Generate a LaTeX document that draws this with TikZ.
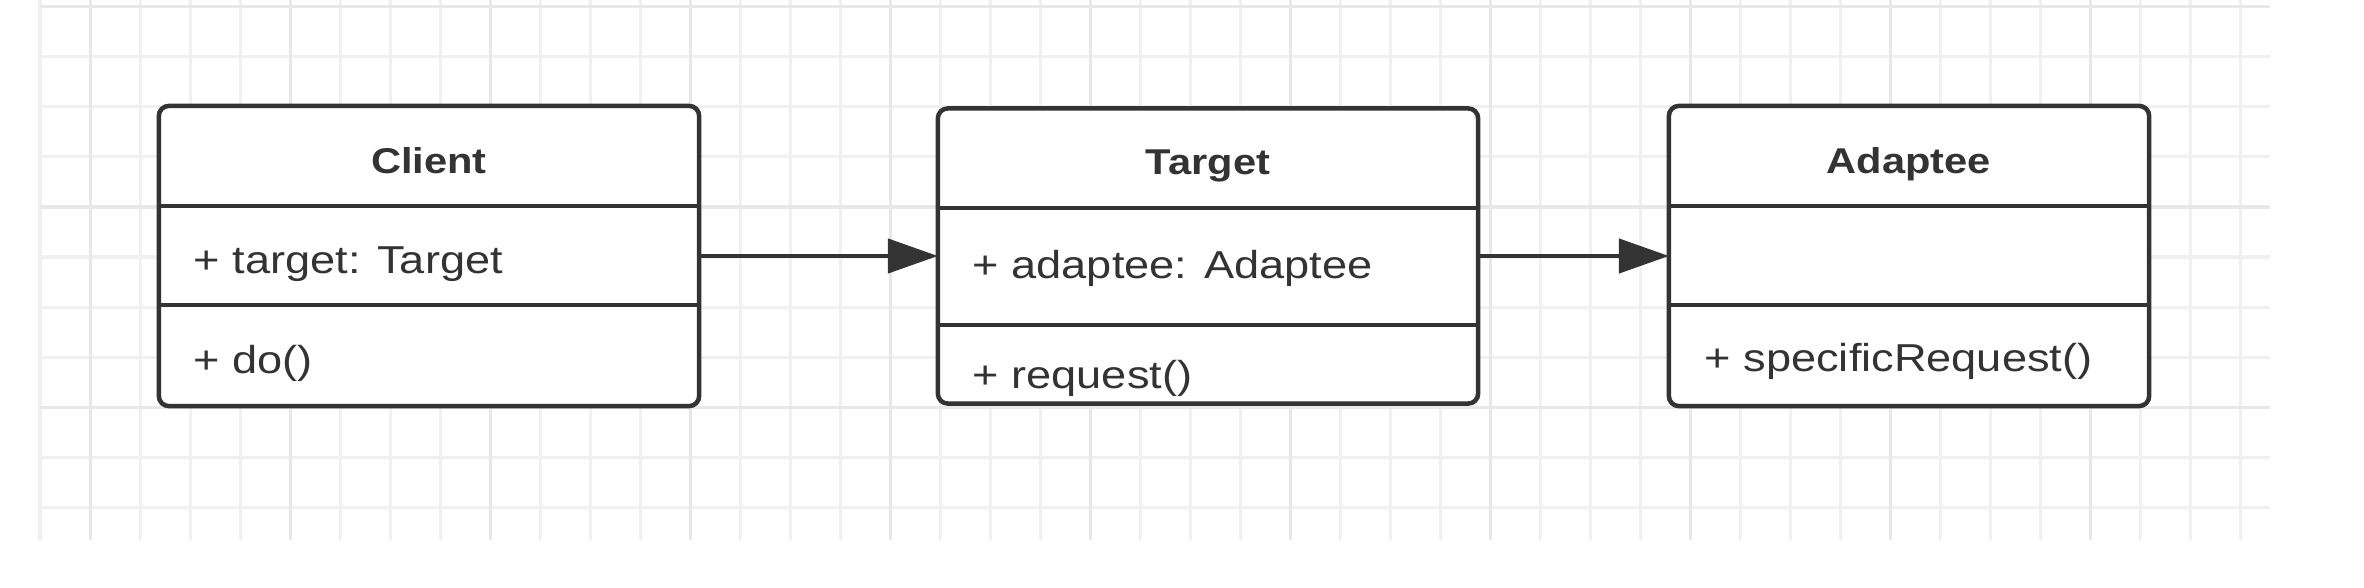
\documentclass[tikz,border=0pt]{standalone}
\usepackage{fontspec}
\usetikzlibrary{arrows.meta}
\newfontfamily\umlfont[FakeStretch=1.16]{Liberation Sans}
\definecolor{ink}{HTML}{333333}
\definecolor{gridminor}{HTML}{F0F0F0}
\definecolor{gridmajor}{HTML}{E8E8E8}
\tikzset{
  classbox/.style={draw=ink, fill=white, line width=0.045cm, rounded corners=0.1cm,
    inner sep=0pt, outer sep=0pt, rectangle},
  divider/.style={draw=ink, line width=0.045cm},
  title/.style={anchor=base, inner sep=0pt, text=ink,
    font=\umlfont\bfseries\fontsize{10.2pt}{12pt}\selectfont},
  member/.style={anchor=base west, inner sep=0pt, text=ink,
    font=\umlfont\fontsize{11.07pt}{13pt}\selectfont},
  conn/.style={draw=ink, line width=0.045cm, -{Triangle[length=0.5cm,width=0.34cm]}},
  minorline/.style={draw=gridminor, line width=0.03cm},
  majorline/.style={draw=gridmajor, line width=0.03cm}
}
\begin{document}
\begin{tikzpicture}[x=0.01cm,y=-0.01cm]
\useasboundingbox[fill=white] (0,0) rectangle (2364,588);
% grid
\foreach \gx in {40,90,...,2240} \draw[minorline] (\gx,0) -- (\gx,540);
\foreach \gy in {7,57,...,507} \draw[minorline] (40,\gy) -- (2270,\gy);
\foreach \gx in {90,290,...,2090} \draw[majorline] (\gx,0) -- (\gx,540);
\foreach \gy in {7,207,407} \draw[majorline] (40,\gy) -- (2270,\gy);
% boxes
\node[classbox, minimum width=5.4cm, minimum height=3.0cm] (client) at (429,256) {};
\node[classbox, minimum width=5.4cm, minimum height=2.95cm] (target) at (1208,256) {};
\node[classbox, minimum width=4.8cm, minimum height=3.0cm] (adaptee) at (1909,256) {};
% dividers
\draw[divider] (client.west |- 0,206) -- (client.east |- 0,206);
\draw[divider] (client.west |- 0,305) -- (client.east |- 0,305);
\draw[divider] (target.west |- 0,208) -- (target.east |- 0,208);
\draw[divider] (target.west |- 0,325) -- (target.east |- 0,325);
\draw[divider] (adaptee.west |- 0,206) -- (adaptee.east |- 0,206);
\draw[divider] (adaptee.west |- 0,305) -- (adaptee.east |- 0,305);
% texts
\node[title] (clientname) at (429,173) {Client};
\node[member] (clientattr) at (193,273) {+ target: Target};
\node[member] (clientop) at (193,373) {+ do()};
\node[title] (targetname) at (1208,175) {Target};
\node[member] (targetattr) at (972,278) {+ adaptee: Adaptee};
\node[member] (targetop) at (972,388) {+ request()};
\node[title] (adapteename) at (1909,173) {Adaptee};
\node[member] (adapteeop) at (1704,371) {+ specificRequest()};
% connectors
\draw[conn] (client.east) -- (target.west);
\draw[conn] (target.east) -- (adaptee.west);
\end{tikzpicture}
\end{document}
